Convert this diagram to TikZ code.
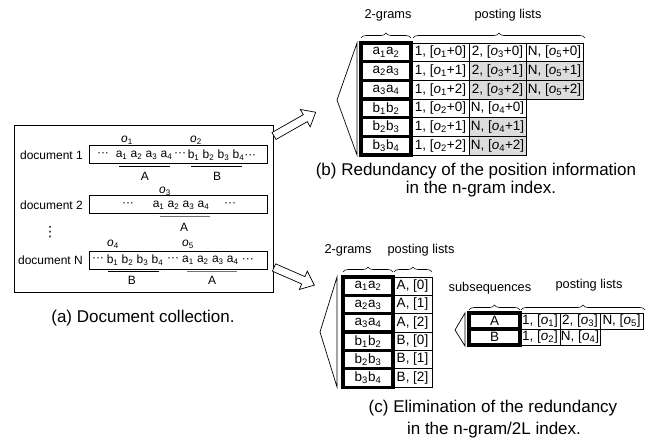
\documentclass[tikz,border=0pt]{standalone}
\usepackage{fontspec}
\setmainfont{Liberation Sans}
\newfontfamily\dejavu{DejaVu Sans}
\usetikzlibrary{calc, positioning, shapes, decorations.pathreplacing}
\newcommand{\pxf}[1]{\fontsize{#1}{#1}\selectfont}
\newcommand{\ix}[1]{\textsubscript{#1}}
\newcommand{\ob}[1]{\textit{o}\textsubscript{#1}}
\definecolor{cellgray}{RGB}{220,220,220}

\begin{document}
\begin{tikzpicture}[x=1pt,y=-1pt,
  gram/.style={draw, line width=3.2pt, minimum width=50pt, minimum height=18.6pt, inner sep=0pt, font=\pxf{13.5}},
  post/.style={draw, line width=0.7pt, minimum width=57pt, minimum height=18.6pt, inner sep=0pt, font=\pxf{13.5}},
  docrow/.style={draw, line width=0.8pt, minimum width=178pt, minimum height=18pt, inner sep=0pt},
  txt/.style={inner sep=0pt, font=\pxf{12}},
  lbl/.style={inner sep=0pt, font=\pxf{12.8}},
  captxt/.style={inner sep=0pt, font=\pxf{17}},
  brc/.style={decorate, decoration={brace, amplitude=5pt}, line width=0.6pt},
  bigarr/.style={draw, line width=0.7pt, fill=white}]
\useasboundingbox (0,0) rectangle (661,440);

% (a) document collection
\draw[line width=0.8pt] (14,125) rectangle (273,292);
\node[docrow] (row1) at (178,154.5) {};
\node[docrow] (row2) at (178,204.5) {};
\node[docrow] (rowN) at (178,260) {};
\node[txt, anchor=east] (doc1) at (83,155) {document 1};
\node[txt, anchor=east] (doc2) at (83,205) {document 2};
\node[txt, anchor=east] (docN) at (83,260) {document N};
\node[txt, font=\dejavu\pxf{14}] (vd) at (50,232) {⋮};

\node[txt] (r1d1) at (103,155) {···};
\node[txt] (r1a) at (144,155) {a\ix{1} a\ix{2} a\ix{3} a\ix{4}};
\node[txt] (r1d2) at (180,155) {···};
\node[txt] (r1b) at (222,155) {b\ix{1} b\ix{2} b\ix{3} b\ix{4}···};
\node[txt] (o1) at (127,140) {\ob{1}};
\node[txt] (o2) at (196,140) {\ob{2}};
\draw[line width=0.8pt] (119,166) -- (170,166);
\draw[line width=0.8pt] (191,166) -- (242,166);
\node[txt] (r1A) at (145,176) {A};
\node[txt] (r1B) at (217,176) {B};

\node[txt] (r2d1) at (128,205) {···};
\node[txt] (r2a) at (181,205) {a\ix{1} a\ix{2} a\ix{3} a\ix{4}};
\node[txt] (r2d2) at (230,205) {···};
\node[txt] (o3) at (165,191) {\ob{3}};
\draw[line width=0.8pt, black!55] (160,216) -- (210,216);
\node[txt] (r2A) at (184,227) {A};

\node[txt] (rNd1) at (98,260) {···};
\node[txt] (rNb) at (135,260) {b\ix{1} b\ix{2} b\ix{3} b\ix{4}};
\node[txt] (rNd2) at (173,260) {···};
\node[txt] (rNa) at (218,260) {a\ix{1} a\ix{2} a\ix{3} a\ix{4} ···};
\node[txt] (o4) at (113,244) {\ob{4}};
\node[txt] (o5) at (188,244) {\ob{5}};
\draw[line width=0.8pt] (108,271) -- (159,271);
\draw[line width=0.8pt, black!55] (187,271) -- (237,271);
\node[txt] (rNB) at (132,280) {B};
\node[txt] (rNA) at (212,280) {A};

\node[captxt] (capa) at (143,318) {(a) Document collection.};

% block arrows
\begin{scope}[shift={(274,136)}, rotate=29.7]
\draw[bigarr] (0,-4) -- (36,-4) -- (36,-10) -- (48,0) -- (36,10) -- (36,4) -- (0,4) -- cycle;
\end{scope}
\begin{scope}[shift={(274,267.5)}, rotate=-23.6]
\draw[bigarr] (0,-4) -- (32,-4) -- (32,-10) -- (44,0) -- (32,10) -- (32,4) -- (0,4) -- cycle;
\end{scope}

% (b) n-gram index
\node[lbl] (hb1) at (388,15) {2-grams};
\node[lbl] (hb2) at (508,15) {posting lists};
\draw[brc] (361,38) -- (411,38);
\draw[brc] (413,38) -- (585,38);
\draw[line width=0.7pt] (357,43) -- (337,100) -- (357,155) -- cycle;

\node[gram] (b1) at (386,52.3) {a\ix{1}a\ix{2}};
\node[gram] (b2) at (386,71) {a\ix{2}a\ix{3}};
\node[gram] (b3) at (386,89.7) {a\ix{3}a\ix{4}};
\node[gram] (b4) at (386,108.3) {b\ix{1}b\ix{2}};
\node[gram] (b5) at (386,127) {b\ix{2}b\ix{3}};
\node[gram] (b6) at (386,145.7) {b\ix{3}b\ix{4}};

\node[post] (b11) at (440.5,52.3) {1, [\ob{1}+0]};
\node[post] (b12) at (497.5,52.3) {2, [\ob{3}+0]};
\node[post] (b13) at (554.5,52.3) {N, [\ob{5}+0]};
\node[post] (b21) at (440.5,71) {1, [\ob{1}+1]};
\node[post, fill=cellgray] (b22) at (497.5,71) {2, [\ob{3}+1]};
\node[post, fill=cellgray] (b23) at (554.5,71) {N, [\ob{5}+1]};
\node[post] (b31) at (440.5,89.7) {1, [\ob{1}+2]};
\node[post, fill=cellgray] (b32) at (497.5,89.7) {2, [\ob{3}+2]};
\node[post, fill=cellgray] (b33) at (554.5,89.7) {N, [\ob{5}+2]};
\node[post] (b41) at (440.5,108.3) {1, [\ob{2}+0]};
\node[post] (b42) at (497.5,108.3) {N, [\ob{4}+0]};
\node[post] (b51) at (440.5,127) {1, [\ob{2}+1]};
\node[post, fill=cellgray] (b52) at (497.5,127) {N, [\ob{4}+1]};
\node[post] (b61) at (440.5,145.7) {1, [\ob{2}+2]};
\node[post, fill=cellgray] (b62) at (497.5,145.7) {N, [\ob{4}+2]};

\node[captxt] (capb1) at (476,171) {(b) Redundancy of the position information};
\node[captxt] (capb2) at (481,189) {in the n-gram index.};

% (c) n-gram/2L index
\node[lbl] (hc1) at (348,250) {2-grams};
\node[lbl] (hc2) at (421,250) {posting lists};
\draw[brc] (343,272) -- (393,272);
\draw[brc] (394,272) -- (432,272);
\draw[line width=0.7pt] (337,277) -- (320,332) -- (337,387) -- cycle;

\node[gram] (c1) at (368,286.2) {a\ix{1}a\ix{2}};
\node[gram] (c2) at (368,304.5) {a\ix{2}a\ix{3}};
\node[gram] (c3) at (368,322.8) {a\ix{3}a\ix{4}};
\node[gram] (c4) at (368,341.2) {b\ix{1}b\ix{2}};
\node[gram] (c5) at (368,359.5) {b\ix{2}b\ix{3}};
\node[gram] (c6) at (368,377.8) {b\ix{3}b\ix{4}};
\node[post, minimum width=39pt] (c11) at (412.5,286.2) {A, [0]};
\node[post, minimum width=39pt] (c21) at (412.5,304.5) {A, [1]};
\node[post, minimum width=39pt] (c31) at (412.5,322.8) {A, [2]};
\node[post, minimum width=39pt] (c41) at (412.5,341.2) {B, [0]};
\node[post, minimum width=39pt] (c51) at (412.5,359.5) {B, [1]};
\node[post, minimum width=39pt] (c61) at (412.5,377.8) {B, [2]};

\node[lbl] (hs1) at (490,288) {subsequences};
\node[lbl] (hs2) at (589,285) {posting lists};
\draw[brc] (469,310) -- (520,310);
\draw[brc] (521,310) -- (645,310);
\draw[line width=0.7pt] (465,313) -- (455,330) -- (465,346) -- cycle;

\node[gram, minimum width=51pt, minimum height=16pt] (sA) at (494.5,321) {A};
\node[gram, minimum width=51pt, minimum height=16pt] (sB) at (494.5,337) {B};
\node[post, minimum width=40pt, minimum height=16pt] (sA1) at (540,321) {1, [\ob{1}]};
\node[post, minimum width=40pt, minimum height=16pt] (sA2) at (580,321) {2, [\ob{3}]};
\node[post, minimum width=43pt, minimum height=16pt] (sA3) at (621.5,321) {N, [\ob{5}]};
\node[post, minimum width=40pt, minimum height=16pt] (sB1) at (540,337) {1, [\ob{2}]};
\node[post, minimum width=40pt, minimum height=16pt] (sB2) at (580,337) {N, [\ob{4}]};

\node[captxt] (capc1) at (493,408) {(c) Elimination of the redundancy};
\node[captxt] (capc2) at (494,430) {in the n-gram/2L index.};
\end{tikzpicture}
\end{document}
